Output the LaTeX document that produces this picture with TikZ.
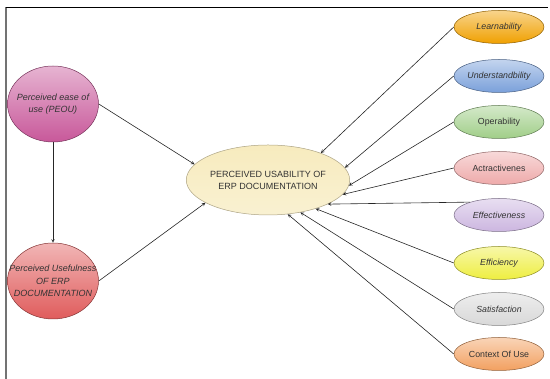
\documentclass[tikz,border=0pt]{standalone}
\usepackage{fontspec}
\setmainfont{Liberation Sans}
\usetikzlibrary{shapes.geometric}
\definecolor{peouc}{HTML}{C8589A}
\definecolor{puc}{HTML}{E05C5C}
\definecolor{cenc}{HTML}{F7EBBE}
\definecolor{learnc}{HTML}{F0A000}
\definecolor{undc}{HTML}{7AA0DA}
\definecolor{operc}{HTML}{A0CE88}
\definecolor{attrc}{HTML}{EEAAAA}
\definecolor{effc}{HTML}{CCB6E0}
\definecolor{effic}{HTML}{EEEE40}
\definecolor{satc}{HTML}{D8D8D8}
\definecolor{ctxc}{HTML}{F2A060}
\begin{document}
\begin{tikzpicture}[x=1pt, y=1pt, line join=round, >=stealth,
		font=\fontsize{8.8}{10.5}\selectfont,
		oval/.style={ellipse, draw=#1!60!black, line width=0.5pt, top color=#1!45!white, bottom color=#1, text=black!80, inner sep=0pt, align=center},
		small/.style={oval=#1, minimum width=90pt, minimum height=33pt},
		big/.style={oval=#1, minimum width=91pt, minimum height=76pt, inner xsep=-20pt, font=\fontsize{9}{12.5}\selectfont\itshape},
		ital/.style={font=\fontsize{8.8}{10.5}\selectfont\itshape},
		upr/.style={},
		link/.style={->, draw=black!85, line width=0.6pt}]
	\useasboundingbox (0,0) rectangle (550,379);
	% frame
	\draw[black!55, line width=1.6pt] (6,0)--(6,372);
	\draw[line width=0.8pt] (5.5,372)--(548,372);
	% left side
	\node[big=peouc] (peou) at (53,275) {Perceived ease of\\use (PEOU)};
	\node[big=puc] (pu) at (53,98) {Perceived Usefulness\\OF ERP\\DOCUMENTATION};
	\node[oval=cenc, draw=cenc!70!black, top color=cenc, bottom color=cenc!70!white, minimum width=130pt, minimum height=70pt, font=\fontsize{9}{12}\selectfont] (cen) at (268,199) {PERCEIVED USABILITY OF\\ERP DOCUMENTATION};
	% right side
	\foreach \n/\y/\col/\sh/\t in {learn/352/learnc/ital/Learnability, und/303/undc/ital/Understandbility, oper/257/operc/upr/Operability, attr/211/attrc/upr/Actractivenes, eff/164/effc/ital/Effectiveness, effi/116/effic/ital/Efficiency, sat/70/satc/ital/Satisfaction, ctx/25/ctxc/upr/Context Of Use}
	\node[small=\col, \sh] (\n) at (499,\y) {\t};
	% arrows
	\draw[link] (peou.east) -- (cen.168);
	\draw[link] (pu.east) -- (cen.200);
	\draw[link] (peou.south) -- (pu.north);
	\foreach \n/\s/\a in {learn/west/27, und/west/9, oper/west/-4.5, attr/west/-11, eff/156/-22, effi/west/-31.5, sat/west/-45, ctx/west/-60}
	\draw[link] (\n.\s) -- (cen.\a);
\end{tikzpicture}
\end{document}
